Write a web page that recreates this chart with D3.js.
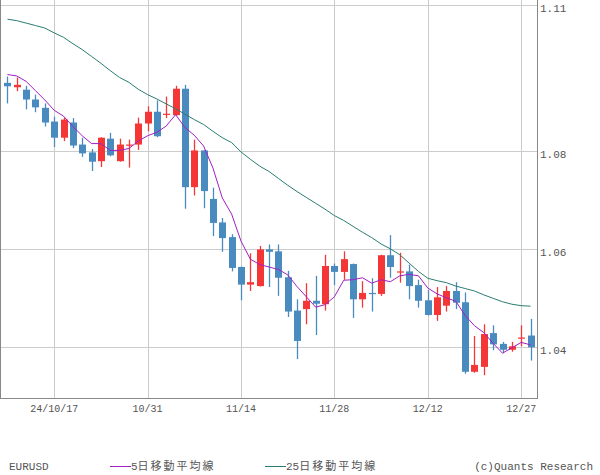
<!DOCTYPE html>
<html>
<head>
<meta charset="utf-8">
<script src="https://cdn.jsdelivr.net/npm/d3@7"></script>
<style>
  html, body { margin: 0; padding: 0; background: #fff; }
  svg { display: block; }
  text { font-family: "Liberation Mono", "DejaVu Sans Mono", "Noto Sans CJK JP", monospace; fill: #555; }
</style>
</head>
<body>
<svg id="chart" width="600" height="475"></svg>
<script>
// ---- Data (EURUSD daily) ----
const dates = [
  "2024-10-10","2024-10-11","2024-10-14","2024-10-15","2024-10-16","2024-10-17","2024-10-18","2024-10-21","2024-10-22","2024-10-23",
  "2024-10-24","2024-10-25","2024-10-28","2024-10-29","2024-10-30","2024-10-31","2024-11-01","2024-11-04","2024-11-05","2024-11-06",
  "2024-11-07","2024-11-08","2024-11-11","2024-11-12","2024-11-13","2024-11-14","2024-11-15","2024-11-18","2024-11-19","2024-11-20",
  "2024-11-21","2024-11-22","2024-11-25","2024-11-26","2024-11-27","2024-11-28","2024-11-29","2024-12-02","2024-12-03","2024-12-04",
  "2024-12-05","2024-12-06","2024-12-09","2024-12-10","2024-12-11","2024-12-12","2024-12-13","2024-12-16","2024-12-17","2024-12-18",
  "2024-12-19","2024-12-20","2024-12-23","2024-12-24","2024-12-26","2024-12-27","2024-12-30"
];
const open = [1.0940,1.0931,1.0926,1.0906,1.0889,1.0861,1.0828,1.0859,1.0814,1.0798,
  1.0780,1.0826,1.0780,1.0813,1.0814,1.0857,1.0881,1.0875,1.0874,1.0928,
  1.0727,1.0802,1.0703,1.0655,1.0625,1.0564,1.0528,1.0525,1.0600,1.0596,
  1.0543,1.0475,1.0478,1.0495,1.0488,1.0566,1.0554,1.0570,1.0498,1.0511,
  1.0509,1.0588,1.0554,1.0555,1.0527,1.0496,1.0466,1.0485,1.0515,1.0492,
  1.0350,1.0360,1.0429,1.0407,1.0395,1.0419,1.0424];
const high = [1.0953,1.0951,1.0934,1.0916,1.0898,1.0871,1.0869,1.0868,1.0828,1.0805,
  1.0829,1.0838,1.0826,1.0824,1.0869,1.0892,1.0904,1.0912,1.0934,1.0936,
  1.0824,1.0803,1.0726,1.0664,1.0631,1.0565,1.0592,1.0607,1.0610,1.0610,
  1.0556,1.0498,1.0531,1.0546,1.0589,1.0571,1.0596,1.0571,1.0535,1.0541,
  1.0589,1.0629,1.0593,1.0569,1.0538,1.0517,1.0523,1.0525,1.0533,1.0512,
  1.0423,1.0447,1.0445,1.0411,1.0411,1.0445,1.0458];
const low = [1.0898,1.0923,1.0886,1.0880,1.0851,1.0809,1.0821,1.0807,1.0789,1.0760,
  1.0768,1.0790,1.0779,1.0767,1.0803,1.0841,1.0829,1.0868,1.0873,1.0683,
  1.0710,1.0684,1.0627,1.0595,1.0555,1.0496,1.0515,1.0524,1.0523,1.0505,
  1.0462,1.0376,1.0447,1.0425,1.0475,1.0527,1.0538,1.0460,1.0481,1.0473,
  1.0505,1.0542,1.0532,1.0498,1.0481,1.0465,1.0454,1.0473,1.0478,1.0346,
  1.0348,1.0343,1.0394,1.0388,1.0391,1.0402,1.0373];
const close = [1.0933,1.0936,1.0906,1.0890,1.0859,1.0828,1.0865,1.0812,1.0796,1.0779,
  1.0828,1.0792,1.0814,1.0814,1.0857,1.0881,1.0831,1.0877,1.0928,1.0727,
  1.0802,1.0719,1.0654,1.0623,1.0562,1.0528,1.0533,1.0600,1.0595,1.0542,
  1.0473,1.0413,1.0495,1.0489,1.0566,1.0554,1.0580,1.0498,1.0511,1.0510,
  1.0588,1.0564,1.0555,1.0525,1.0495,1.0466,1.0502,1.0515,1.0491,1.0350,
  1.0364,1.0427,1.0406,1.0395,1.0402,1.0420,1.0400];
const ma5 = [1.0957,1.0954,1.0943,1.0924,1.0905,1.0884,1.0872,1.0851,1.0832,1.0816,
  1.0816,1.0802,1.0802,1.0806,1.0821,1.0832,1.0839,1.0852,1.0875,1.0849,
  1.0833,1.0811,1.0766,1.0705,1.0672,1.0617,1.0580,1.0569,1.0564,1.0559,
  1.0548,1.0524,1.0503,1.0482,1.0487,1.0503,1.0537,1.0538,1.0542,1.0531,
  1.0538,1.0534,1.0546,1.0549,1.0546,1.0521,1.0509,1.0501,1.0494,1.0465,
  1.0444,1.0430,1.0408,1.0388,1.0399,1.0410,1.0405];
const ma25 = [1.1070,1.1067,1.1062,1.1057,1.1052,1.1042,1.1033,1.1020,1.1008,1.0994,
  1.0980,1.0965,1.0951,1.0941,1.0927,1.0916,1.0907,1.0897,1.0887,1.0876,
  1.0865,1.0855,1.0841,1.0828,1.0818,1.0799,1.0784,1.0770,1.0759,1.0745,
  1.0731,1.0718,1.0706,1.0694,1.0682,1.0669,1.0659,1.0647,1.0635,1.0624,
  1.0611,1.0601,1.0589,1.0572,1.0555,1.0541,1.0536,1.0532,1.0525,1.0520,
  1.0515,1.0507,1.0500,1.0493,1.0488,1.0485,1.0484];
const xTickDates = ["2024-10-17","2024-10-31","2024-11-14","2024-11-28","2024-12-12","2024-12-27"];
const xTickLabels = ["24/10/17","10/31","11/14","11/28","12/12","12/27"];
const yTicks = [1.04, 1.06, 1.08, 1.11];
const yTickLabels = ["1.04","1.06","1.08","1.11"];
const symbol = "EURUSD";
const legendNames = ["5日移動平均線", "25日移動平均線"];
const credit = "(c)Quants Research";

// ---- Layout ----
const plotL = 0, plotR = 537, plotT = 0, plotB = 398;
const colUp = "#f53636", colDown = "#4a8bbf", colMA5 = "#a21fc4", colMA25 = "#2a7d72";

const svg = d3.select("#chart");
const x = d3.scalePoint().domain(dates).range([0, 538]).padding(0.8);
const y = d3.scaleLinear().domain([1.04, 1.11]).range([347.3, 4.5]);
const cr = v => Math.round(v) + 0.5;

// grid
const grid = svg.append("g");
grid.selectAll("line.h").data(yTicks).join("line")
  .attr("x1", plotL).attr("x2", plotR)
  .attr("y1", d => cr(y(d))).attr("y2", d => cr(y(d)))
  .attr("stroke", "#cccccc").attr("stroke-width", 1);
grid.selectAll("line.v").data(xTickDates).join("line")
  .attr("x1", d => cr(x(d))).attr("x2", d => cr(x(d)))
  .attr("y1", plotT).attr("y2", plotB)
  .attr("stroke", "#cccccc").attr("stroke-width", 1);

// candles
const idx = d3.range(dates.length);
const cg = svg.append("g");
cg.selectAll("line.wick").data(idx).join("line")
  .attr("x1", i => cr(x(dates[i]))).attr("x2", i => cr(x(dates[i])))
  .attr("y1", i => y(high[i])).attr("y2", i => y(low[i]))
  .attr("stroke", i => close[i] >= open[i] ? colUp : colDown)
  .attr("stroke-width", 1.3);
cg.selectAll("rect.body").data(idx).join("rect")
  .attr("x", i => Math.round(x(dates[i])) - 3)
  .attr("width", 7)
  .attr("y", i => y(Math.max(open[i], close[i])))
  .attr("height", i => Math.max(1.2, Math.abs(y(open[i]) - y(close[i]))))
  .attr("fill", i => close[i] >= open[i] ? colUp : colDown);

// moving averages
const line = arr => d3.line().x((d, i) => x(dates[i])).y(d => y(d))(arr);
svg.append("path").attr("d", line(ma25)).attr("fill", "none").attr("stroke", colMA25).attr("stroke-width", 1);
svg.append("path").attr("d", line(ma5)).attr("fill", "none").attr("stroke", colMA5).attr("stroke-width", 1);

// frame
svg.append("line").attr("x1", 0.5).attr("x2", 0.5).attr("y1", plotT).attr("y2", plotB + 0.5).attr("stroke", "#888").attr("stroke-width", 1);
svg.append("line").attr("x1", plotR + 0.5).attr("x2", plotR + 0.5).attr("y1", plotT).attr("y2", plotB + 0.5).attr("stroke", "#888").attr("stroke-width", 1);
svg.append("line").attr("x1", 0).attr("x2", plotR + 1).attr("y1", plotB + 0.5).attr("y2", plotB + 0.5).attr("stroke", "#888").attr("stroke-width", 1);

// y labels (right side)
svg.append("g").selectAll("text").data(yTicks).join("text")
  .attr("x", 540).attr("y", d => y(d) + 7)
  .attr("font-size", 11)
  .text((d, i) => yTickLabels[i]);

// x labels
svg.append("g").selectAll("text").data(xTickDates).join("text")
  .attr("x", d => x(d)).attr("y", 412)
  .attr("text-anchor", "middle")
  .attr("font-size", 10)
  .text((d, i) => xTickLabels[i]);

// legend
const ly = 466;
function legendText(xPos, str) {
  const m = str.match(/^([0-9]+)(.*)$/);
  const t = svg.append("text").attr("x", xPos).attr("y", ly + 4).attr("font-size", 11);
  t.append("tspan").text(m[1]);
  t.append("tspan").attr("letter-spacing", 2).text(m[2]);
}
svg.append("text").attr("x", 9).attr("y", ly + 4).attr("font-size", 11).text(symbol);
svg.append("line").attr("x1", 110).attr("x2", 131).attr("y1", ly + 0.5).attr("y2", ly + 0.5).attr("stroke", colMA5).attr("stroke-width", 1);
legendText(131, legendNames[0]);
svg.append("line").attr("x1", 265).attr("x2", 286).attr("y1", ly + 0.5).attr("y2", ly + 0.5).attr("stroke", colMA25).attr("stroke-width", 1);
legendText(286, legendNames[1]);
svg.append("text").attr("x", 593).attr("y", ly + 4).attr("text-anchor", "end").attr("font-size", 11).text(credit);
</script>
</body>
</html>
